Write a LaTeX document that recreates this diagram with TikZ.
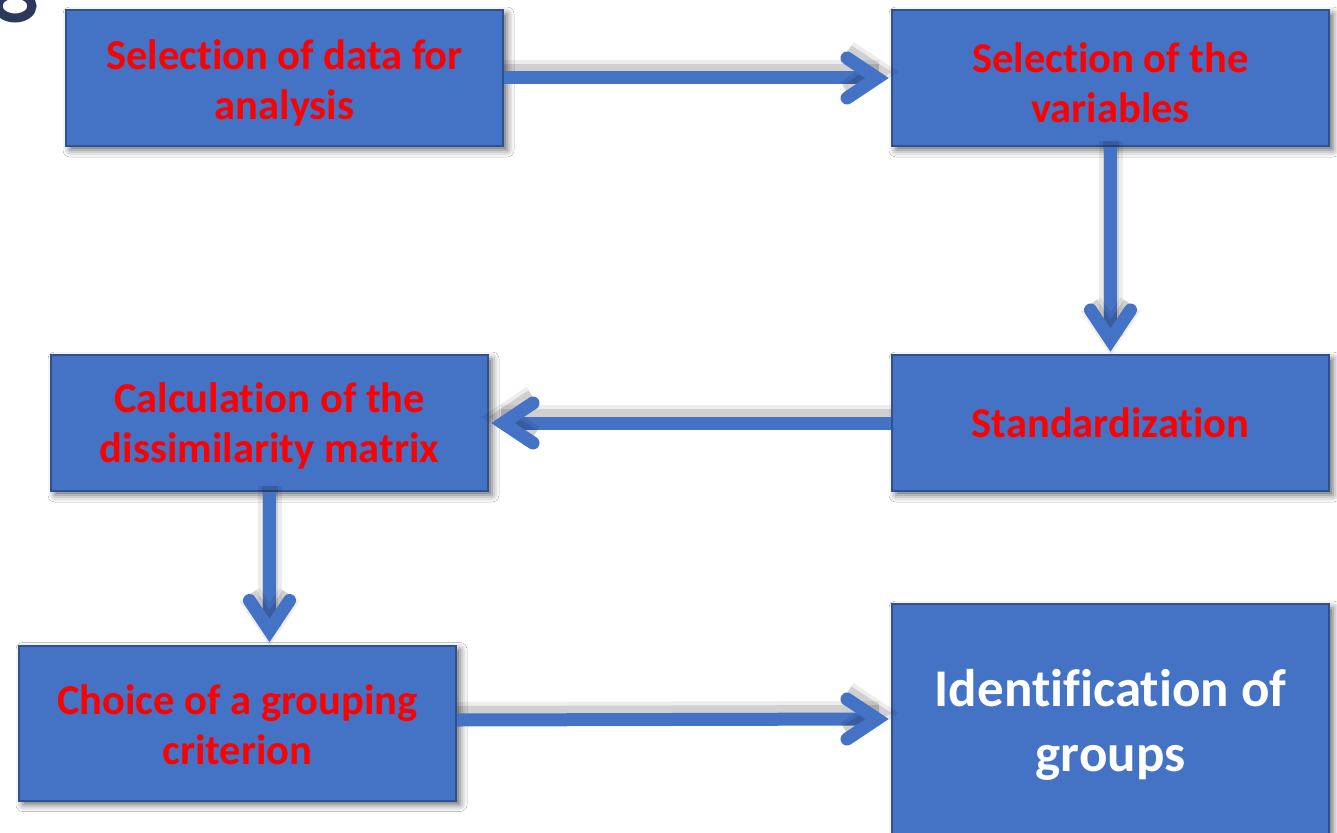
\documentclass[tikz,border=0pt]{standalone}
\usepackage{fontspec}
\setmainfont{Carlito}[Ligatures=NoCommon]
\usetikzlibrary{shadows.blur,calc}
\definecolor{boxblue}{HTML}{4472C4}
\definecolor{boxedge}{HTML}{2F528F}
\definecolor{ink}{HTML}{2B3A5C}
% two centred lines, pushed down by half of #1
\newcommand{\twolines}[3]{\begin{minipage}{430pt}\centering\vspace*{#1}#2\\#3\end{minipage}}
\begin{document}
\begin{tikzpicture}[x=1pt,y=-1pt,
  stepbox/.style={draw=boxedge, line width=2pt, fill=boxblue,
    minimum width=437pt, minimum height=136pt, inner sep=0pt, align=center,
    font=\bfseries\fontsize{42.5}{50}\selectfont, text=red,
    blur shadow={shadow xshift=4pt, shadow yshift=-4pt, shadow blur radius=7pt, shadow opacity=60}},
  soft/.style={preaction={draw=black, opacity=0.07, line width=24pt, transform canvas={yshift=6pt}},
               preaction={draw=black, opacity=0.12, line width=16pt, transform canvas={yshift=6pt}}},
  shaft/.style={draw=boxblue, line width=13pt, soft},
  chevron/.style={draw=boxblue, line width=13pt, line cap=round, line join=miter, soft}]
\useasboundingbox (0,0) rectangle (1337,832);
\fill[white] (0,0) rectangle (1337,832);

% partly visible heading glyph in the corner
\begin{scope}
  \clip (0,0) rectangle (60,40);
  \draw[ink, line width=9pt] (15,6) ellipse [x radius=17, y radius=12];
\end{scope}

% process steps
\node[stepbox] (A) at (284.5,78)  {\twolines{10pt}{Selection of data for}{analysis}};
\node[stepbox] (B) at (1110.5,78) {\twolines{10pt}{Selection of the}{variables}};
\node[stepbox] (C) at (1110.5,423) {Standardization};
\node[stepbox] (D) at (269.5,423) {\twolines{5pt}{Calculation of the}{dissimilarity matrix}};
\node[stepbox, minimum height=155pt] (E) at (237.5,723) {\twolines{4pt}{Choice of a grouping}{criterion}};
\node[stepbox, minimum height=232pt, text=white,
      font=\bfseries\fontsize{53}{65}\selectfont] (F) at (1110.5,720) {\twolines{10pt}{Identification of}{groups}};

% connectors
\draw[shaft] (A.east) -- ($(B.west)+(-12,0)$);
\draw[chevron] ($(B.west)+(-44,-20)$) -- ($(B.west)+(-14,0)$) -- ($(B.west)+(-44,20)$);

\draw[shaft] (B.south) -- ($(C.north)+(0,-12)$);
\draw[chevron] ($(C.north)+(-20,-44)$) -- ($(C.north)+(0,-14)$) -- ($(C.north)+(20,-44)$);

\draw[shaft] (C.west) -- ($(D.east)+(12,0)$);
\draw[chevron] ($(D.east)+(44,-20)$) -- ($(D.east)+(14,0)$) -- ($(D.east)+(44,20)$);

\draw[shaft] (D.south) -- ($(D.south |- E.north)+(0,-12)$);
\draw[chevron] ($(D.south |- E.north)+(-20,-44)$) -- ($(D.south |- E.north)+(0,-14)$) -- ($(D.south |- E.north)+(20,-44)$);

\coordinate (Fin) at ($(E.east -| F.west)+(0,-4)$);
\draw[shaft] ($(E.east)+(0,-3)$) -- ($(Fin)+(-12,0)$);
\draw[chevron] ($(Fin)+(-44,-20)$) -- ($(Fin)+(-14,0)$) -- ($(Fin)+(-44,20)$);
\end{tikzpicture}
\end{document}
